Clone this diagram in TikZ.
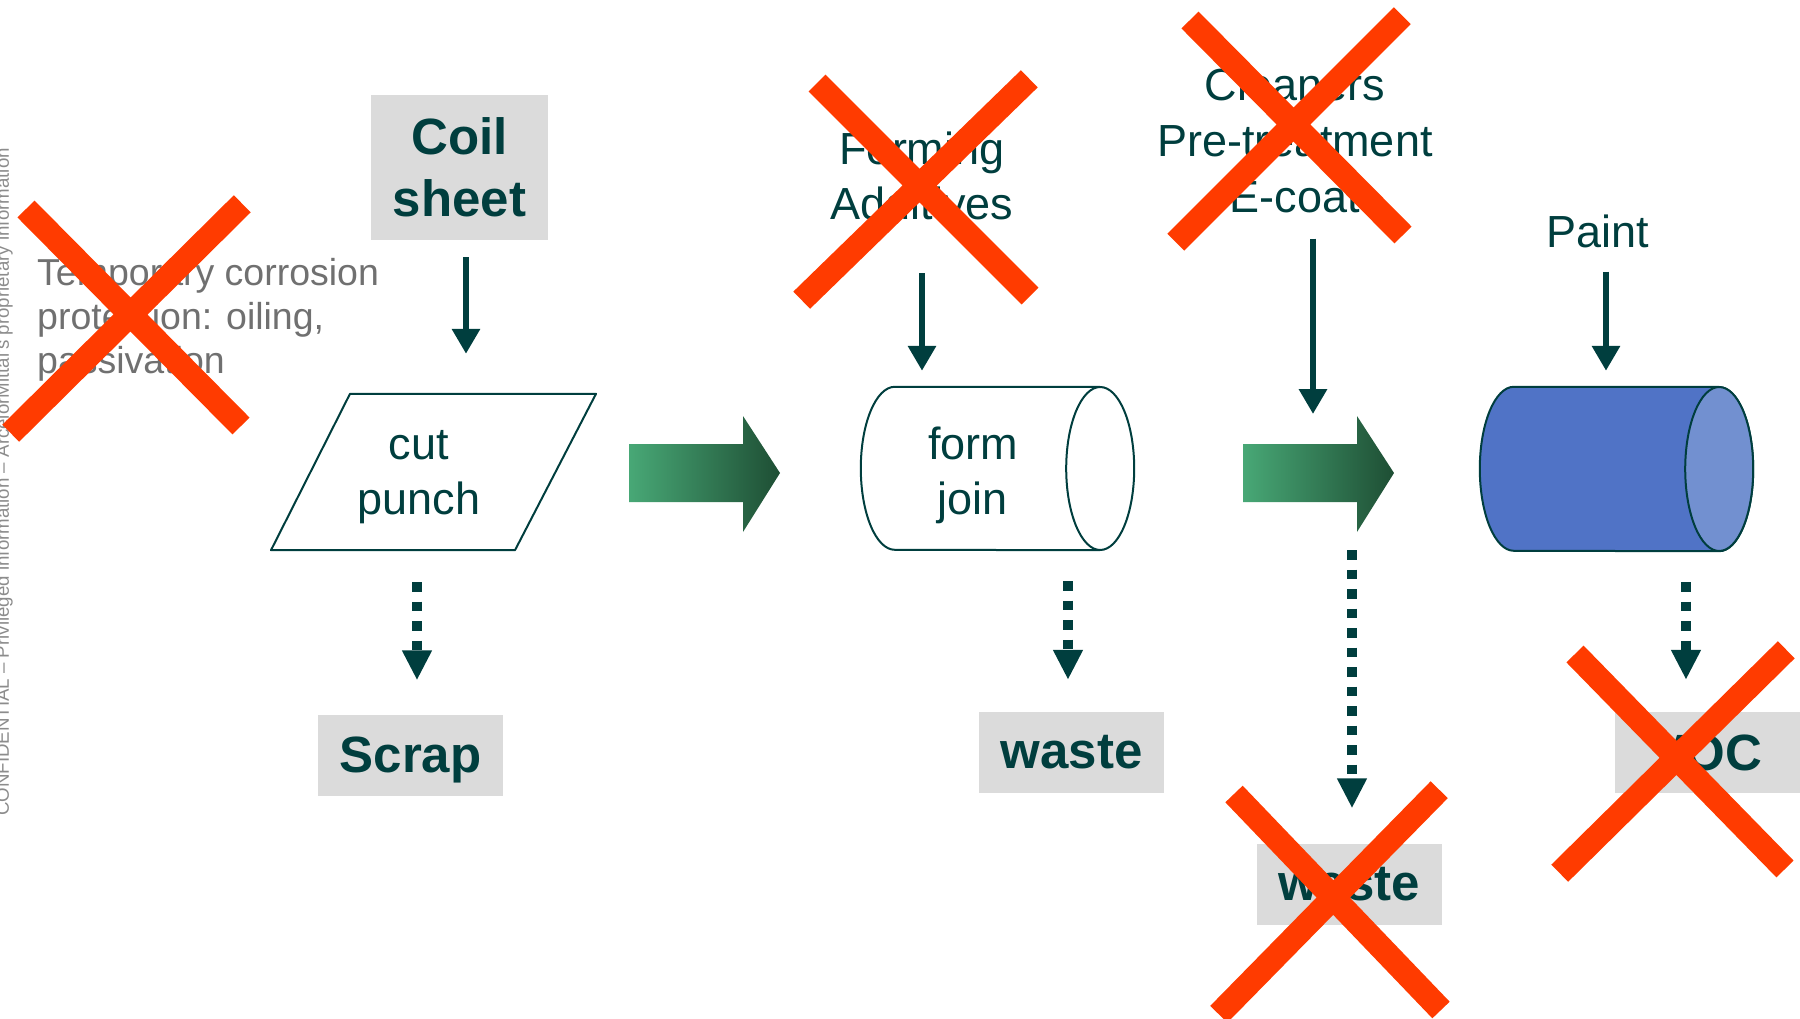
\documentclass[tikz,border=0pt]{standalone}
\usepackage{fontspec}
\setmainfont{Liberation Sans}
\usetikzlibrary{arrows.meta}
\definecolor{dteal}{RGB}{0,62,62}
\definecolor{boxgray}{RGB}{219,219,219}
\definecolor{xred}{RGB}{255,59,0}
\definecolor{cylblue}{RGB}{80,115,198}
\definecolor{cylend}{RGB}{114,144,208}
\definecolor{gleft}{RGB}{72,168,118}
\definecolor{gright}{RGB}{30,78,52}
\definecolor{tgray}{RGB}{112,112,112}
\definecolor{vgray}{RGB}{140,140,140}
\begin{document}
\begin{tikzpicture}[x=1pt,y=-1pt,
  graybox/.style={fill=boxgray, text=dteal, font=\bfseries\fontsize{51}{62}\selectfont, align=center, inner sep=0pt, minimum width=185pt, minimum height=81pt},
  lbl/.style={text=dteal, font=\fontsize{45}{55}\selectfont, align=center, inner sep=0pt},
  outline/.style={draw=dteal, line width=2pt, line join=round},
  solidarr/.style={draw=dteal, line width=6.5pt, -{Triangle[width=27pt,length=25pt]}},
  dotarr/.style={draw=dteal, line width=9.5pt, dash pattern=on 9.5pt off 10pt, -{Triangle[width=28pt,length=30pt]}},
  blockarr/.style={left color=gleft, right color=gright, draw=none},
  cross/.style={draw=xred, line width=24pt, shorten <=-6pt, shorten >=-6pt}
]
\useasboundingbox (0,0) rectangle (1800,1019);

% confidentiality note
\node[rotate=90, anchor=base, text=vgray, font=\fontsize{18.7}{20}\selectfont, inner sep=0pt] (conf) at (9,482)
  {CONFIDENTIAL -- Privileged information -- ArcelorMittal's proprietary information};

% left text
\node[anchor=west, text=tgray, font=\fontsize{37.5}{44}\selectfont, align=left, inner sep=0pt] (temp) at (37,319.5)
  {Temporary corrosion\\protection: oiling,\\passivation};

% step 1
\node[graybox, minimum width=177pt, minimum height=145pt, text depth=0pt] (coil) at (459.5,167.5) {Coil\\sheet};
\node[minimum width=160pt, minimum height=156pt, inner sep=0pt] (cut) at (419,472) {};
\draw[outline] ([xshift=-148pt]cut.south) -- ([xshift=-69pt]cut.north) -- ([xshift=177pt]cut.north)
  -- ([xshift=96pt]cut.south) -- cycle;
\node[lbl] (cuttext) at (419,477) {cut\\punch};
\node[graybox, text depth=0pt] (scrap) at (410.5,755) {Scrap};

% block arrow 1
\shade[blockarr] (629,444) -- (743,444) -- (743,416) -- (780,473) -- (743,532) -- (743,502) -- (629,502) -- cycle;

% step 2
\node[lbl] (forming) at (922,176) {Forming\\Additives};
\node[minimum width=239pt, minimum height=163pt, inner sep=0pt] (cyl1) at (980.5,468.5) {};
\draw[outline] (cyl1.north east) -- ([xshift=34pt]cyl1.north west)
  arc[start angle=90, end angle=270, x radius=34pt, y radius=81.5pt] -- (cyl1.south east);
\draw[outline] (cyl1.east) ellipse [x radius=34pt, y radius=81.5pt];
\node[lbl] (cyl1text) at (973,475.5) {form\\join};
\node[graybox] (waste1) at (1071.5,752.5) {waste};

% block arrow 2
\shade[blockarr] (1243,444) -- (1357,444) -- (1357,416) -- (1394,473) -- (1357,532) -- (1357,502) -- (1243,502) -- cycle;
\coordinate (a2top) at (1313,416);
\coordinate (a2bot) at (1352,532);

% step 3
\node[lbl, font=\fontsize{45}{56}\selectfont] (cleaners) at (1295,140) {Cleaners\\Pre-treatment\\E-coat};
\node[graybox] (waste2) at (1349,884) {waste};

% step 4
\node[lbl] (paint) at (1598,231) {Paint};
\node[minimum width=239pt, minimum height=164pt, inner sep=0pt] (cyl2) at (1599.5,469) {};
\draw[outline, fill=cylblue] (cyl2.north east) -- ([xshift=34pt]cyl2.north west)
  arc[start angle=90, end angle=270, x radius=34pt, y radius=82pt] -- (cyl2.south east)
  arc[start angle=-90, end angle=90, x radius=34pt, y radius=82pt] -- cycle;
\draw[outline, fill=cylend] (cyl2.east) ellipse [x radius=34pt, y radius=82pt];
\node[graybox] (voc) at (1707,752.5) {VOC};

% input arrows
\draw[solidarr, shorten <=17pt, shorten >=40pt] ([xshift=6.5pt]coil.south) -- ([xshift=6.5pt]coil.south |- cut.north);
\draw[solidarr, shorten <=53pt, shorten >=16pt] (forming.south) -- (forming.south |- cyl1.north);
\draw[solidarr, shorten <=26pt, shorten >=2pt] (cleaners.south -| a2top) -- (a2top);
\draw[solidarr, shorten <=24pt, shorten >=16pt] ([xshift=8pt]paint.south) -- ([xshift=8pt]paint.south |- cyl2.north);

% output arrows
\draw[dotarr, shorten <=32pt, shorten >=34pt] ([xshift=-2pt]cut.south) -- ([xshift=-2pt]cut.south |- scrap.north);
\draw[dotarr, shorten <=31pt, shorten >=32pt] ([xshift=87.5pt]cyl1.south) -- ([xshift=87.5pt]cyl1.south |- waste1.north);
\draw[dotarr, shorten <=18pt, shorten >=35pt] (a2bot) -- (a2bot |- waste2.north);
\draw[dotarr, shorten <=31pt, shorten >=32pt] ([xshift=86.5pt]cyl2.south) -- ([xshift=86.5pt]cyl2.south |- voc.north);

% crosses
\draw[cross] (26,209) -- (241,426) (238,208) -- (15,429);
\draw[cross] (817,83) -- (1030,296) (1025,83) -- (806,296);
\draw[cross] (1190,20) -- (1403,235) (1398,20) -- (1180,238);
\draw[cross] (1234,794) -- (1441,1010) (1435,794) -- (1223,1010);
\draw[cross] (1575,654) -- (1785,869) (1782,654) -- (1564,869);
\end{tikzpicture}
\end{document}
